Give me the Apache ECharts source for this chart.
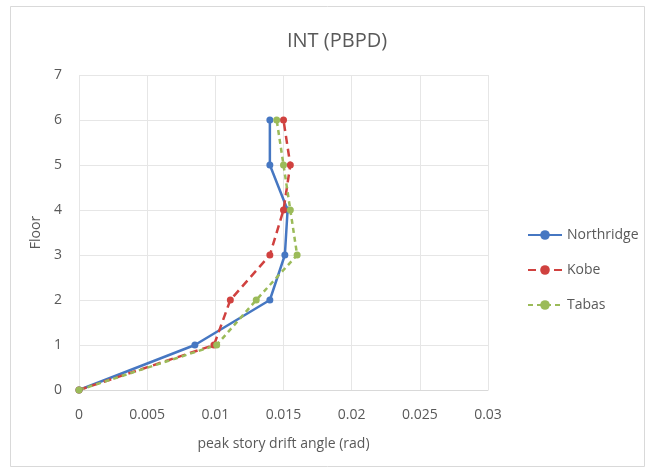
<!DOCTYPE html>
<html><head><meta charset="utf-8">
<script src="https://cdn.jsdelivr.net/npm/echarts@6/dist/echarts.min.js"></script>
<style>html,body{margin:0;padding:0;background:#fff}#c{width:654px;height:473px}</style>
</head><body><div id="c"></div>
<script>
const floors = [0, 1, 2, 3, 4, 5, 6];
const northridge = [0, 0.0085, 0.014, 0.0151, 0.0153, 0.014, 0.014];
const kobe = [0, 0.0099, 0.0111, 0.014, 0.015, 0.0155, 0.015];
const tabas = [0, 0.0101, 0.013, 0.016, 0.0155, 0.015, 0.0145];
const xTicks = [0, 0.005, 0.01, 0.015, 0.02, 0.025, 0.03];

const font = '"Open Sans", "Noto Sans", sans-serif';
const txt = '#595959';
function pts(xs){ return xs.map((x,i)=>[x, floors[i]]); }

const chart = echarts.init(document.getElementById('c'), null, {renderer:'canvas'});
chart.setOption({
  animation:false,
  backgroundColor:'#fff',
  title:{text:'INT (PBPD)', left:332, top:26, textAlign:'center',
    textStyle:{fontFamily:font, fontSize:20, fontWeight:'normal', color:txt}},
  graphic:[{type:'rect', shape:{x:10.5,y:6.5,width:634,height:460},
    style:{fill:null, stroke:'#d9d9d9', lineWidth:1}, silent:true}],
  grid:{left:79, right:166, top:75, bottom:83},
  legend:{orient:'vertical', left:522, top:223, itemGap:21, itemWidth:34, itemHeight:12,
    textStyle:{fontFamily:font, fontSize:14, color:txt},
    data:['Northridge','Kobe','Tabas']},
  xAxis:{type:'value', min:0, max:0.03, interval:0.005,
    name:'peak story drift angle (rad)', nameLocation:'middle', nameGap:47,
    nameTextStyle:{fontFamily:font, fontSize:14, color:txt},
    axisLine:{show:true, lineStyle:{color:'#d9d9d9'}}, axisTick:{show:false},
    axisLabel:{fontFamily:font, fontSize:14, color:txt, margin:18,
      formatter:v=>{const s=xTicks.find(t=>Math.abs(t-v)<1e-9); return String(s!==undefined?s:v);}},
    splitLine:{show:true, lineStyle:{color:'#e6e6e6'}}},
  yAxis:{type:'value', min:0, max:7, interval:1,
    name:'Floor', nameLocation:'middle', nameGap:30, nameRotate:90,
    nameTextStyle:{fontFamily:font, fontSize:14, color:txt},
    axisLine:{show:false}, axisTick:{show:false},
    axisLabel:{fontFamily:font, fontSize:14, color:txt, margin:17},
    splitLine:{show:true, lineStyle:{color:'#e6e6e6'}}},
  series:[
    {name:'Northridge', type:'line', data:pts(northridge), symbol:'circle', symbolSize:7,
      itemStyle:{color:'#4677c2'}, lineStyle:{color:'#4677c2', width:2.5}},
    {name:'Kobe', type:'line', data:pts(kobe), symbol:'circle', symbolSize:7,
      itemStyle:{color:'#d0413f'}, lineStyle:{color:'#d0413f', width:2.5, type:[8,5]}},
    {name:'Tabas', type:'line', data:pts(tabas), symbol:'circle', symbolSize:7,
      itemStyle:{color:'#9bbb59'}, lineStyle:{color:'#9bbb59', width:2.5, type:[5,4]}}
  ]
});
</script></body></html>
